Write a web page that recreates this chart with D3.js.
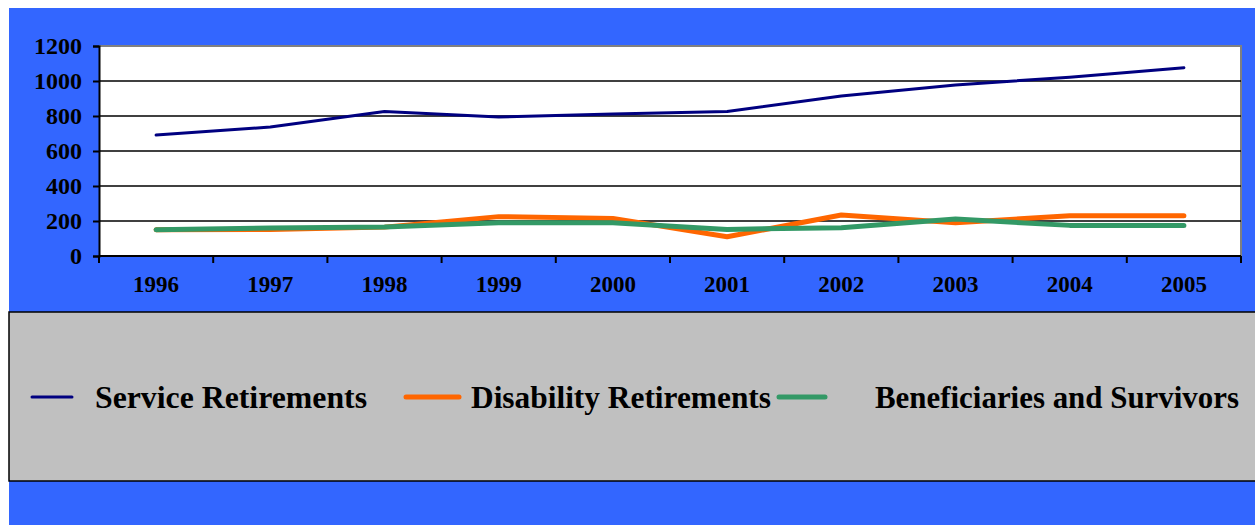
<!DOCTYPE html>
<html>
<head>
<meta charset="utf-8">
<script src="https://cdn.jsdelivr.net/npm/d3@7"></script>
<style>
  html, body { margin: 0; padding: 0; background: #ffffff; }
  svg { display: block; }
</style>
</head>
<body>
<svg id="chart" width="1255" height="525"></svg>
<script>
// Annual counts of new retirements by type
const years = ["1996", "1997", "1998", "1999", "2000", "2001", "2002", "2003", "2004", "2005"];
const serviceRetirements    = [691, 737, 826, 794, 811, 826, 914, 977, 1022, 1076];
const disabilityRetirements = [150, 152, 165, 225, 215, 110, 234, 190, 230, 230];
const beneficiariesSurvivors = [150, 160, 166, 190, 190, 152, 162, 211, 175, 175];
const yTicks = [0, 200, 400, 600, 800, 1000, 1200];

const seriesNames  = ["Service Retirements", "Disability Retirements", "Beneficiaries and Survivors"];
const seriesColors = ["#000080", "#FF6600", "#339966"];
const seriesWidths = [3, 5, 5];
const seriesValues = [serviceRetirements, disabilityRetirements, beneficiariesSurvivors];

const FONT = "'Liberation Serif', 'Times New Roman', Times, serif";

const svg = d3.select("#chart");

// Blue backdrop
svg.append("rect").attr("x", 9).attr("y", 8).attr("width", 1246).attr("height", 517).attr("fill", "#3366FF");

const plot = { left: 99, right: 1241, top: 46, bottom: 256 };

const x = d3.scaleBand().domain(years).range([plot.left, plot.right]);
const y = d3.scaleLinear().domain([0, 1200]).range([plot.bottom, plot.top]);

// Plot area
svg.append("rect")
  .attr("x", plot.left).attr("y", plot.top)
  .attr("width", plot.right - plot.left).attr("height", plot.bottom - plot.top)
  .attr("fill", "#ffffff");
svg.append("path")
  .attr("d", `M${plot.left},${plot.top}H${plot.right}V${plot.bottom}`)
  .attr("fill", "none").attr("stroke", "#808080").attr("stroke-width", 2);

// Horizontal gridlines
svg.append("g")
  .selectAll("line")
  .data(yTicks.filter(t => t > 0 && t < 1200))
  .join("line")
  .attr("x1", plot.left).attr("x2", plot.right)
  .attr("y1", d => y(d)).attr("y2", d => y(d))
  .attr("stroke", "#000").attr("stroke-width", 1.5);

// Y axis
const yAxis = svg.append("g")
  .attr("transform", `translate(${plot.left},0)`)
  .call(d3.axisLeft(y).tickValues(yTicks).tickSize(6).tickPadding(11).tickFormat(d3.format("d")));
yAxis.attr("font-family", FONT).attr("font-size", 24);
yAxis.select(".domain").attr("stroke", "#000").attr("stroke-width", 2);
yAxis.selectAll(".tick line").attr("stroke", "#000").attr("stroke-width", 2);
yAxis.selectAll("text")
  .style("font-family", FONT).style("font-weight", "bold").style("font-size", "24px")
  .attr("dy", "0.33em").attr("fill", "#000");

// X axis with ticks at category boundaries
const boundaries = years.map(d => x(d)).concat([x(years[years.length - 1]) + x.bandwidth()]);
const xg = svg.append("g").attr("transform", `translate(0,${plot.bottom})`);
xg.append("line").attr("x1", plot.left).attr("x2", plot.right)
  .attr("stroke", "#000").attr("stroke-width", 2);
xg.selectAll("line.tk").data(boundaries).join("line").attr("class", "tk")
  .attr("x1", d => d).attr("x2", d => d).attr("y1", 0).attr("y2", 7)
  .attr("stroke", "#000").attr("stroke-width", 2);
xg.selectAll("text").data(years).join("text")
  .attr("x", d => x(d) + x.bandwidth() / 2)
  .attr("y", 36)
  .attr("text-anchor", "middle")
  .style("font-family", FONT).style("font-weight", "bold").style("font-size", "23px")
  .attr("fill", "#000")
  .text(d => d);

// Series lines
const line = d3.line()
  .x((d, i) => x(years[i]) + x.bandwidth() / 2)
  .y(d => y(d));

seriesValues.forEach((vals, k) => {
  svg.append("path")
    .datum(vals)
    .attr("d", line)
    .attr("fill", "none")
    .attr("stroke", seriesColors[k])
    .attr("stroke-width", seriesWidths[k])
    .attr("stroke-linejoin", "round")
    .attr("stroke-linecap", "round");
});

// Legend
svg.append("rect")
  .attr("x", 9).attr("y", 312).attr("width", 1250).attr("height", 169)
  .attr("fill", "#C0C0C0").attr("stroke", "#000").attr("stroke-width", 1.5);

const legendItems = [
  { lx1: 32, lx2: 72, tx: 95, tw: 272 },
  { lx1: 406, lx2: 459, tx: 471, tw: 300 },
  { lx1: 779, lx2: 825, tx: 875, tw: 364 }
];
const lg = svg.append("g");
seriesNames.forEach((name, k) => {
  const it = legendItems[k];
  lg.append("line")
    .attr("x1", it.lx1).attr("x2", it.lx2).attr("y1", 397).attr("y2", 397)
    .attr("stroke", seriesColors[k]).attr("stroke-width", k === 0 ? 3 : 5)
    .attr("stroke-linecap", "round");
  lg.append("text")
    .attr("x", it.tx).attr("y", 408)
    .style("font-family", FONT).style("font-weight", "bold").style("font-size", "32px")
    .attr("fill", "#000")
    .attr("textLength", it.tw).attr("lengthAdjust", "spacingAndGlyphs")
    .text(name);
});
</script>
</body>
</html>
